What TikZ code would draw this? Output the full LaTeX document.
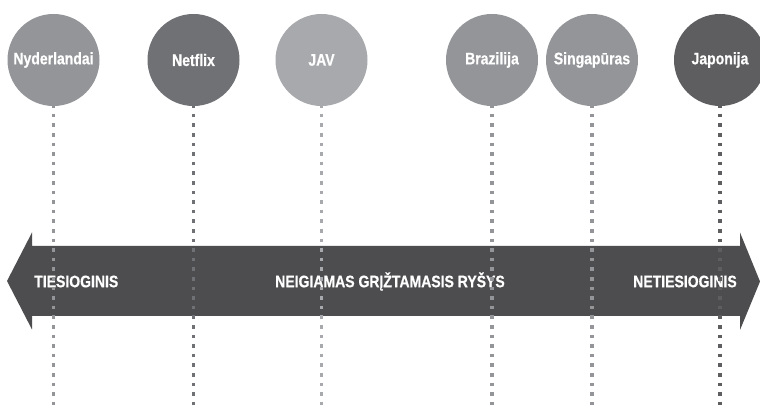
\documentclass[tikz,border=0pt]{standalone}
\usepackage{fontspec}
\newfontfamily\condfont{Liberation Sans Bold}[FakeStretch=0.84, FakeBold=0.6]
\definecolor{midgrey}{RGB}{147,149,152}
\definecolor{darkgrey}{RGB}{112,113,116}
\definecolor{lightgrey}{RGB}{167,169,172}
\definecolor{deepgrey}{RGB}{94,94,97}
\definecolor{bargrey}{RGB}{77,77,79}

\tikzset{
  country/.style={circle, minimum size=69pt, inner sep=0pt, text=white,
    font=\condfont\fontsize{12.5}{14}\selectfont},
  barlabel/.style={inner sep=0pt, text=white,
    font=\condfont\fontsize{12.5}{14}\selectfont},
  dotline/.style={line width=2.4pt, dash pattern=on 2.7pt off 4.5pt}
}

\begin{document}
\begin{tikzpicture}[x=0.75pt,y=0.75pt,yscale=-1,xscale=1]
\fill[white] (0,0) rectangle (760,409);
\useasboundingbox (0,0) rectangle (760,409);

%Shape: double arrow
\fill[bargrey] (7,281) -- (32,232.5) -- (32,246) -- (740,246) -- (740,232.5) -- (760,281.5)
  -- (740,330) -- (740,316) -- (32,316) -- (32,329.5) -- cycle;

% Text Node
\node[barlabel, anchor=west] (direct) at (34,281.5) {TIESIOGINIS};
% Text Node
\node[barlabel] (feedback) at (390,281.5) {NEIGIAMAS GRĮŽTAMASIS RYŠYS};
% Text Node
\node[barlabel, anchor=east] (indirect) at (737,281.5) {NETIESIOGINIS};

%Shape: Circles
\node[country, fill=midgrey] (nl) at (53.5,60) {Nyderlandai};
\node[country, fill=darkgrey] (netflix) at (193.5,60) {Netflix};
\node[country, fill=lightgrey] (usa) at (321.5,60) {JAV};
\node[country, fill=midgrey] (br) at (492,60) {Brazilija};
\node[country, fill=midgrey] (sg) at (592,60) {Singapūras};
\node[country, fill=deepgrey] (jp) at (720,60) {Japonija};

\coordinate (bottom) at (0,409);

%Dotted Lines
\foreach \n/\c in {nl/midgrey, netflix/darkgrey, usa/lightgrey, br/midgrey, sg/midgrey, jp/deepgrey}
  \draw[dotline, color=\c] ([yshift=-1.5pt]\n.south) -- (\n.south |- bottom);

\end{tikzpicture}
\end{document}
